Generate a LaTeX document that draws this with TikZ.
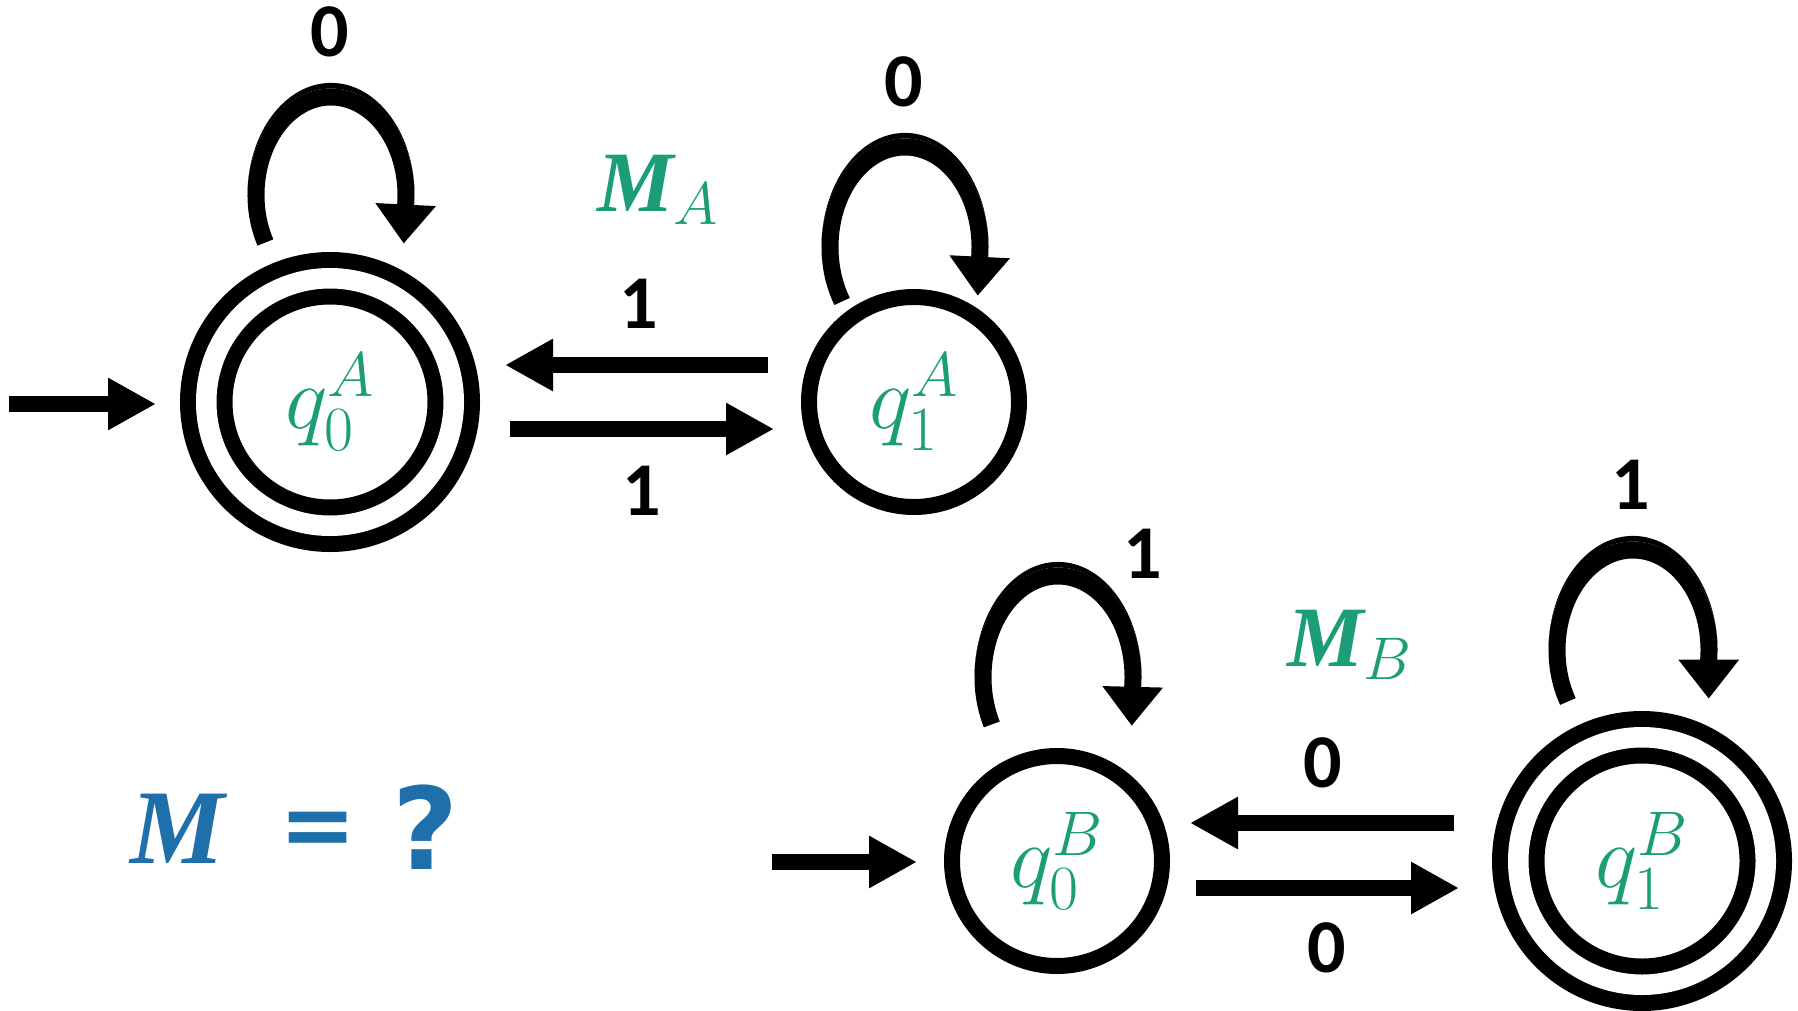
\documentclass[tikz,border=0pt]{standalone}
\usepackage{fix-cm}
\usepackage{amsmath}
\usepackage{fontspec}
\newfontfamily\lblfont{Carlito}
\newfontfamily\qmfont{DejaVu Sans}
\newfontfamily\mserif{Liberation Serif}
\usetikzlibrary{arrows.meta,calc}
\definecolor{mgreen}{HTML}{1B9E77}
\definecolor{mblue}{RGB}{31,112,170}
\tikzset{
  st/.style={circle, draw, line width=8pt, minimum size=105pt, inner sep=0pt, text=mgreen, font=\fontsize{45}{50}\selectfont},
  acc/.style={st, double, double distance=10.25pt, minimum size=123.75pt},
  tr/.style={line width=8pt, -{Triangle[length=24pt,width=24.5pt]}},
  lp/.style={line width=8.5pt, -{Triangle[length=19.5pt,width=29pt]}},
  lbl/.style={font=\lblfont\bfseries\fontsize{38}{40}\selectfont, inner sep=0pt},
  mname/.style={text=mgreen, font=\fontsize{43}{48}\selectfont, inner sep=0pt},
  blue/.style={text=mblue, inner sep=0pt},
}
% thickening crescent on top of a loop: #1 node, #2,#3 ellipse centre offset (px), #4 rx, #5 ry (pt, outer edge)
\newcommand{\loopcrest}[5]{%
  \fill (#1.center) ++({#2-2*#4},{#3})
    arc[start angle=180,end angle=0,x radius=#4pt,y radius=#5pt+2.8pt]
    arc[start angle=0,end angle=180,x radius=#4pt,y radius=#5pt] -- cycle;}
\begin{document}
\begin{tikzpicture}[x=0.5pt,y=0.5pt]
\useasboundingbox (0,0) rectangle (1798,-1011);
% states
\node[acc] (q0A) at (330,-402) {$q^{A}_{0}$};
\node[st]  (q1A) at (914,-402) {$q^{A}_{1}$};
\node[st]  (q0B) at (1057,-861) {$q^{B}_{0}$};
\node[acc] (q1B) at (1642,-861) {$q^{B}_{1}$};
% initial arrows
\coordinate (s0A) at (9,-404);
\draw[tr] (s0A) -- ($(q0A.center)+(-174,-2)$);
\coordinate (s0B) at (772,-862);
\draw[tr] (s0B) -- ($(q0B.center)+(-140,-1)$);
% transitions between states
\draw[tr] ($(q1A.center)+(-146,37)$) -- ($(q0A.center)+(175,37)$);
\draw[tr] ($(q0A.center)+(180,-27)$) -- ($(q1A.center)+(-140,-27)$);
\draw[tr] ($(q1B.center)+(-188,38)$) -- ($(q0B.center)+(133,38)$);
\draw[tr] ($(q0B.center)+(139,-27)$) -- ($(q1B.center)+(-183,-27)$);
% self loops
\draw[lp] (q0A.center) ++({1+75*cos(209)},{207+98*sin(209)})
  arc[start angle=209,end angle=-5,x radius=37.5pt,y radius=49pt] -- ++(-2,-40);
\loopcrest{q0A}{1}{207}{41.75}{53.25}
\draw[lp] (q1A.center) ++({-9+75*cos(213)},{155+100*sin(213)})
  arc[start angle=213,end angle=-5,x radius=37.5pt,y radius=50pt] -- ++(-2,-40);
\loopcrest{q1A}{-9}{155}{41.75}{54.25}
\draw[lp] (q0B.center) ++({1+75*cos(208)},{184+101*sin(208)})
  arc[start angle=208,end angle=-5,x radius=37.5pt,y radius=50.5pt] -- ++(-1,-40);
\loopcrest{q0B}{1}{184}{41.75}{54.75}
\draw[lp] (q1B.center) ++({-9+76*cos(211)},{211+100*sin(211)})
  arc[start angle=211,end angle=-5,x radius=38pt,y radius=50pt] -- ++(0,-40);
\loopcrest{q1B}{-9}{211}{42.25}{54.25}
% labels
\node[lbl] (l1) at (330,-32) {0};
\node[lbl] (l2) at (904,-82) {0};
\node[lbl] (l3) at (639,-304) {1};
\node[lbl] (l4) at (642,-491) {1};
\node[lbl] (l5) at (1143,-554) {1};
\node[lbl] (l6) at (1323,-763) {0};
\node[lbl] (l7) at (1327,-948) {0};
\node[lbl] (l8) at (1631,-485) {1};
% machine names
\node[mname] (MA) at (658,-190) {{\mserif\bfseries\itshape M}$_{A}$};
\node[mname] (MB) at (1350,-645) {{\mserif\bfseries\itshape M}$_{B}$};
% M = ?
\node[blue, font=\mserif\bfseries\itshape\fontsize{53}{58}\selectfont] (M) at (178,-829) {M};
\node[blue, font=\qmfont\bfseries\fontsize{46}{50}\selectfont] (eq) at (318,-834) {=};
\node[blue, font=\qmfont\bfseries\fontsize{57}{60}\selectfont] (qm) at (426,-827) {?};
\end{tikzpicture}
\end{document}
